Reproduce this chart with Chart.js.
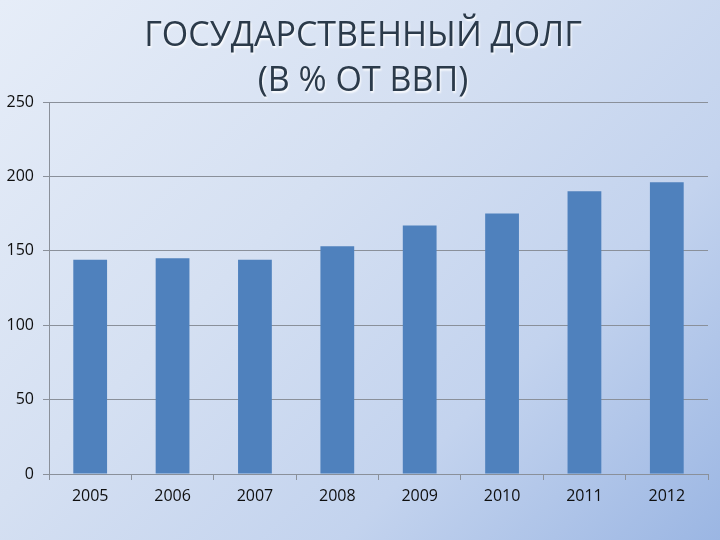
<!DOCTYPE html>
<html lang="ru">
  <head>
    <meta charset="UTF-8" />
    <title>Государственный долг</title>
    <script src="https://cdn.jsdelivr.net/npm/chart.js"></script>
    <style>
      body {
        margin: 0;
        overflow: hidden;
        width: 720px;
        height: 540px;
        background: linear-gradient(135deg, #e6edf8 0%, #d5e0f2 40%, #c3d3ee 70%, #9bb6e3 100%);
      }
      #wrap {
        width: 720px;
        height: 540px;
      }
    </style>
  </head>
  <body>
    <div id="wrap"><canvas id="debtChart"></canvas></div>
    <script>
      // chart data
      const years = ["2005", "2006", "2007", "2008", "2009", "2010", "2011", "2012"];
      const debtPct = [144, 145, 144, 153, 167, 175, 190, 196];
      const titleLines = ["ГОСУДАРСТВЕННЫЙ ДОЛГ", "(В % ОТ ВВП)"];

      // title with soft shadow, drawn above the plot
      const titlePlugin = {
        id: "slideTitle",
        afterDraw(chart) {
          const ctx = chart.ctx;
          ctx.save();
          ctx.font = "34px 'Open Sans'";
          ctx.textAlign = "center";
          ctx.textBaseline = "middle";
          ctx.shadowColor = "rgba(255,255,255,0.9)";
          ctx.shadowOffsetX = 1;
          ctx.shadowOffsetY = 2;
          ctx.shadowBlur = 2;
          ctx.fillStyle = "#2b3a4a";
          titleLines.forEach(function (line, i) {
            ctx.fillText(line, 363, 36 + i * 45);
          });
          ctx.restore();
        },
      };

      const ctx = document.getElementById("debtChart").getContext("2d");
      new Chart(ctx, {
        type: "bar",
        data: {
          labels: years,
          datasets: [
            {
              data: debtPct,
              backgroundColor: "#4f81bd",
              barPercentage: 0.41,
              categoryPercentage: 1,
            },
          ],
        },
        options: {
          responsive: true,
          maintainAspectRatio: false,
          animation: false,
          layout: {
            padding: { top: 102, right: 12, left: 0, bottom: 0 },
          },
          plugins: {
            legend: { display: false },
            tooltip: { enabled: false },
          },
          scales: {
            x: {
              afterFit(scale) {
                scale.height = 66;
              },
              grid: {
                offset: true,
                drawOnChartArea: false,
                color: "#8a909a",
                tickLength: 6,
              },
              border: { color: "#8a909a" },
              ticks: {
                color: "#0f0f0f",
                font: { family: "'Open Sans'", size: 16 },
                padding: 7,
              },
            },
            y: {
              min: 0,
              max: 250,
              afterFit(scale) {
                scale.width = 49;
              },
              grid: {
                color: "#8a909a",
                tickLength: 6,
              },
              border: { color: "#8a909a" },
              ticks: {
                stepSize: 50,
                color: "#0f0f0f",
                font: { family: "'Open Sans'", size: 16 },
                padding: 9,
              },
            },
          },
        },
        plugins: [titlePlugin],
      });
    </script>
  </body>
</html>
